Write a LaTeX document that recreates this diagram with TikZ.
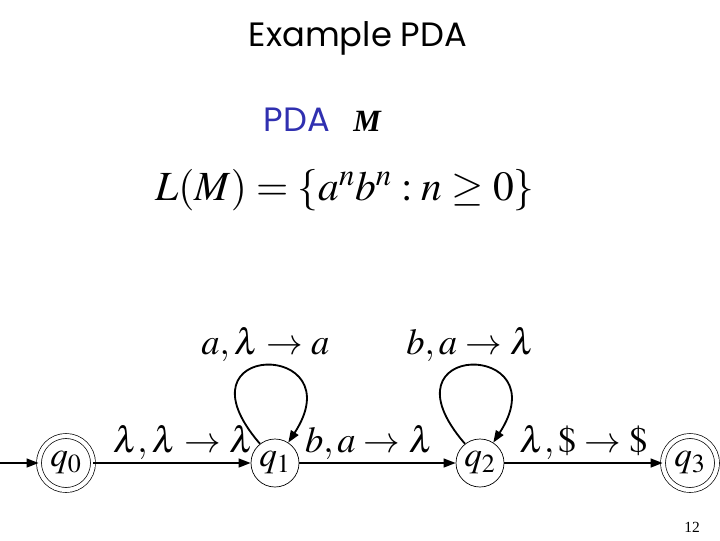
\documentclass[tikz,border=0pt]{standalone}
\usepackage{mathptmx}
\usepackage{fontspec}
\setsansfont{Poppins}
\newfontfamily\pagefont{Liberation Serif}
\usepackage{amsmath}
\usepackage{xcolor}
\usepackage{tikz}
\usetikzlibrary{arrows.meta,calc}
\definecolor{pdablue}{RGB}{48,48,176}
\tikzstyle{tsBig} = [
    text=black,
    font=\fontsize{26}{30}\selectfont
]
\tikzstyle{tsState} = [
    circle,
    text=black,
    font=\fontsize{25}{30}\selectfont,
    draw=black,
    line width=0.5pt,
    minimum size=1.2cm,
    inner sep=0pt
]
\tikzstyle{tsFinal} = [
    tsState,
    minimum size=1.35cm,
    double,
    double distance=3pt
]
\tikzstyle{tsEdge} = [
    ->,
    >={Triangle[length=0.3cm,width=0.22cm]},
    line width=1.3pt
]
\tikzstyle{tsLabel} = [
    tsBig,
    inner sep=2pt
]

\begin{document}
\begin{tikzpicture}[x=0.025cm, y=-0.025cm]

        \useasboundingbox[fill=white] (0,0) rectangle (720,540);

        \node[font=\sffamily\fontsize{24}{28}\selectfont] (title) at (358,38) {Example PDA};
        \node[font=\sffamily\fontsize{24}{28}\selectfont, text=pdablue] (pda) at (297,120) {PDA};
        \node[font=\pagefont\bfseries\itshape\fontsize{22}{26}\selectfont] (mname) at (367,121) {M};
        \node[font=\fontsize{29.5}{36}\selectfont] (lang) at (345,190) {$L(M)=\{a^nb^n : n\geq 0\}$};

        % states
        \node[tsFinal] (q0) at (66,463) {$q_0$};
        \node[tsState] (q1) at (275,463) {$q_1$};
        \node[tsState] (q2) at (480,463) {$q_2$};
        \node[tsFinal] (q3) at (690,463) {$q_3$};
        \coordinate (start) at (0,463);

        % transitions
        \draw[tsEdge] (start) -- (q0);
        \draw[tsEdge] (q0) -- node[tsLabel, above, xshift=8] {$\lambda,\lambda\rightarrow\lambda$} (q1);
        \draw[tsEdge] (q1) -- node[tsLabel, above, xshift=-6] {$b,a\rightarrow\lambda$} (q2);
        \draw[tsEdge] (q2) -- node[tsLabel, above] {$\lambda,\$\rightarrow\$$} (q3);

        \draw[tsEdge] (q1.128) .. controls (170,340) and (355,340) .. node[tsLabel, above] {$a,\lambda\rightarrow a$} (q1.57);
        \draw[tsEdge] (q2.128) .. controls (375,340) and (560,340) .. node[tsLabel, above] {$b,a\rightarrow\lambda$} (q2.57);

        \node[font=\pagefont\fontsize{11}{13}\selectfont] (pagenum) at (692,527) {12};

\end{tikzpicture}
\end{document}
